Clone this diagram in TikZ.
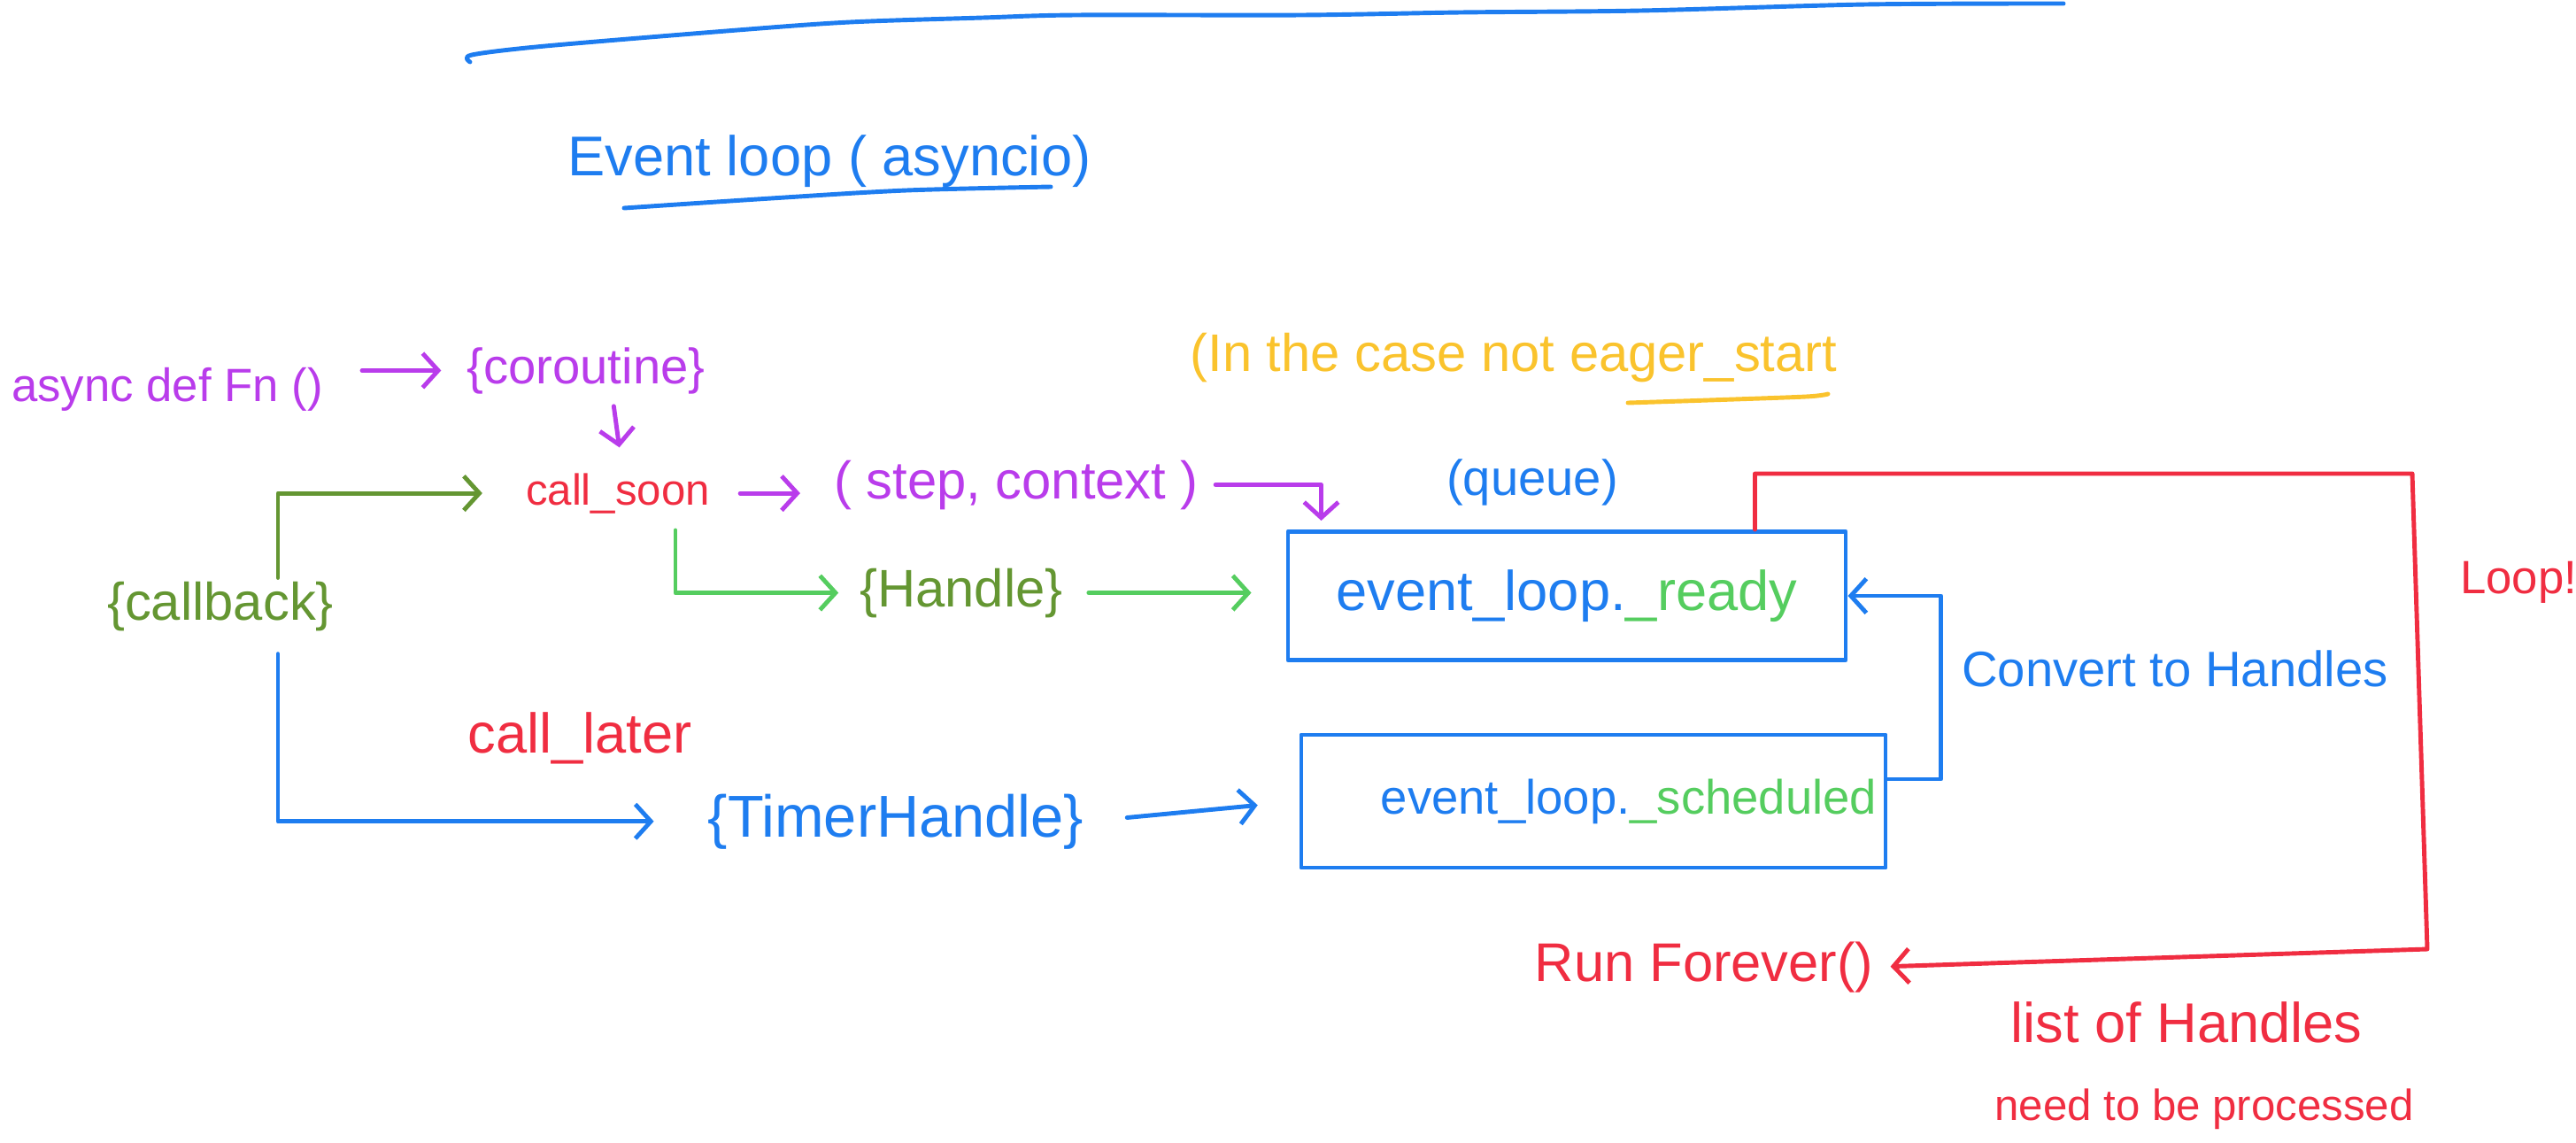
\documentclass[tikz,border=0pt]{standalone}
\usepackage{fontspec}
\setmainfont{Liberation Sans}
\usetikzlibrary{arrows.meta}
\definecolor{inkblue}{RGB}{30,125,240}
\definecolor{inkpurple}{RGB}{185,60,235}
\definecolor{inkred}{RGB}{240,45,65}
\definecolor{inkgreen}{RGB}{100,150,50}
\definecolor{inklime}{RGB}{85,205,95}
\definecolor{inkyellow}{RGB}{250,195,45}
\newcommand{\fs}[1]{\fontsize{#1}{#1}\selectfont}

\begin{document}
\begin{tikzpicture}[
    lbl/.style={anchor=base, inner sep=1pt, font=\fs{16}},
    pen/.style={line width=1.4pt, line cap=round, line join=round},
    queuebox/.style={draw=inkblue, pen, inner sep=0pt, text=inkblue, font=\fs{18}},
    >={Straight Barb[length=5pt,width=11pt]}
]
    \useasboundingbox (0,0) rectangle (29.1,-12.9);

    % heading
    \draw[pen, inkblue] plot[smooth] coordinates {(5.31,-0.70) (5.33,-0.62) (6.16,-0.52) (8.33,-0.34) (9.6,-0.25) (11.1,-0.2) (12.15,-0.17) (14.7,-0.17) (16.5,-0.14) (18.53,-0.12) (21.08,-0.05) (23.31,-0.04)};
    \node[lbl, inkblue, font=\fs{18}] (title) at (9.37,-1.98) {Event loop ( asyncio)};
    \draw[pen, inkblue] plot[smooth] coordinates {(7.05,-2.35) (8.71,-2.24) (10.24,-2.15) (11.87,-2.11)};

    % producers
    \node[lbl, inkpurple, font=\fs{15}] (async) at (1.89,-4.53) {async def Fn ()};
    \node[lbl, inkpurple] (corout) at (6.62,-4.33) {\{coroutine\}};
    \node[lbl, inkred, font=\fs{14}] (callsoon) at (6.98,-5.70) {call\_soon};
    \node[lbl, inkpurple, font=\fs{17}] (stepctx) at (11.48,-5.63) {( step, context )};
    \node[lbl, inkgreen, font=\fs{17}] (callback) at (2.49,-7.0) {\{callback\}};
    \node[lbl, inkgreen, font=\fs{17}] (handle) at (10.86,-6.85) {\{Handle\}};
    \node[lbl, inkred, font=\fs{18}] (calllater) at (6.55,-8.5) {call\_later};
    \node[lbl, inkblue, font=\fs{19}] (timer) at (10.12,-9.45) {\{TimerHandle\}};

    % queues
    \node[lbl, inkyellow, font=\fs{17}] (note) at (17.1,-4.19) {(In the case not eager\_start};
    \draw[pen, inkyellow] plot[smooth] coordinates {(18.39,-4.55) (19.3,-4.52) (20.4,-4.48) (20.65,-4.45)};
    \node[lbl, inkblue] (queue) at (17.31,-5.59) {(queue)};
    \node[queuebox, minimum width=6.3cm, minimum height=1.45cm] (ready) at (17.70,-6.73) {event\_loop.\textcolor{inklime}{\_ready}};
    \node[queuebox, minimum width=6.6cm, minimum height=1.5cm, font=\fs{15.5}] (sched) at (18.0,-9.05) {\hspace*{0.8cm}event\_loop.\textcolor{inklime}{\_scheduled}};
    \node[lbl, inkblue] (convert) at (24.57,-7.75) {Convert to Handles};
    \node[lbl, inkred, font=\fs{15}] (loopmark) at (28.45,-6.7) {Loop!};
    \node[lbl, inkred, font=\fs{17.5}] (run) at (19.25,-11.08) {Run Forever()};
    \node[lbl, inkred, font=\fs{18}] (pendinga) at (24.7,-11.77) {list of Handles};
    \node[lbl, inkred, font=\fs{14}] (pendingb) at (24.9,-12.65) {need to be processed};

    \coordinate (loopne) at (27.25,-5.35);
    \coordinate (loopse) at (27.42,-10.72);

    % arrows
    \draw[->, pen, inkpurple, shorten <=4mm, shorten >=2.5mm] (async.east |- corout.west) -- (corout.west);
    \draw[->, pen, inkpurple, shorten <=1mm, shorten >=2.5mm] ([xshift=3mm]corout.south) -- ([xshift=0.5mm]callsoon.north);
    \draw[->, pen, inkpurple, shorten <=3mm, shorten >=3.4mm] (callsoon.east) -- (callsoon.east -| stepctx.west);
    \draw[->, pen, inkpurple, shorten <=1.5mm, shorten >=1mm] (stepctx.east) -| ([xshift=4mm]ready.north west);
    \draw[->, pen, inkgreen, shorten >=4.5mm] ([xshift=6.5mm]callback.north) |- (callsoon.west);
    \draw[->, pen, inklime, shorten <=1.5mm, shorten >=2mm] ([xshift=6.5mm]callsoon.south) |- (handle.west);
    \draw[->, pen, inklime, shorten <=2.5mm, shorten >=3.9mm] (handle.east) -- (handle.east -| ready.west);
    \draw[->, pen, inkblue, shorten <=2.2mm, shorten >=5.7mm] ([xshift=6.5mm]callback.south) |- (timer.west);
    \draw[->, pen, inkblue, shorten <=4.5mm, shorten >=4.7mm] (timer.east) -- (sched.west);
    \draw[->, pen, inkblue] ([yshift=2.5mm]sched.east) -- ++(0.6,0) |- (ready.east);
    \draw[->, pen, inkred, shorten >=1.5mm] ([xshift=-1.05cm]ready.north east) |- (loopne) -- (loopse) -- (run.east);
\end{tikzpicture}
\end{document}
